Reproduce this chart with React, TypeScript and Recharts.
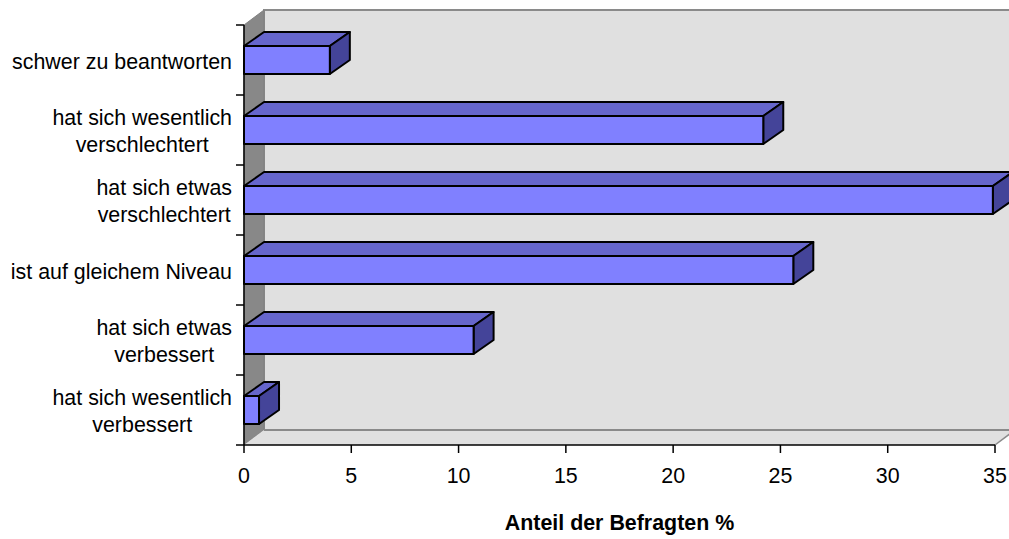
import { BarChart, Bar, XAxis, YAxis, ReferenceArea, Label } from "recharts";

const categories = [
  "schwer zu beantworten",
  "hat sich wesentlich\nverschlechtert",
  "hat sich etwas\nverschlechtert",
  "ist auf gleichem Niveau",
  "hat sich etwas\nverbessert",
  "hat sich wesentlich\nverbessert",
];
const shares = [4.0, 24.2, 34.9, 25.6, 10.7, 0.7];
const xTicks = [0, 5, 10, 15, 20, 25, 30, 35];
const xTitle = "Anteil der Befragten %";

const data = categories.map((name, i) => ({ name, value: shares[i] }));

const W = 1009;
const H = 539;
const TOP = 25;
const X_AXIS_H = 94;
const PLOT_H = H - TOP - X_AXIS_H;
const BAND = PLOT_H / categories.length;
const DX = 20; // 3d depth
const DY = 15;
const FONT = '"Liberation Sans", Arial, sans-serif';
const FS = 21.4;
const LINE_H = 27.5;

let ctx: CanvasRenderingContext2D | null = null;
function measure(s: string) {
  if (!ctx) {
    ctx = document.createElement("canvas").getContext("2d");
  }
  if (!ctx) return s.length * FS * 0.5;
  ctx.font = `${FS}px "Liberation Sans", Arial, sans-serif`;
  return ctx.measureText(s).width;
}

function Walls(props: any) {
  const { x, y, width, height } = props;
  const bx = x + DX;
  const by = y - DY;
  return (
    <g>
      <rect x={bx} y={by} width={width + 40} height={height} fill="#e0e0e0" stroke="#8a8a8a" strokeWidth={2} />
      <polygon
        points={`${x},${y} ${bx},${by} ${bx},${by + height} ${x},${y + height}`}
        fill="#888888"
        stroke="#808080"
      />
      <polygon
        points={`${x},${y + height} ${bx},${by + height} ${bx + width},${by + height} ${x + width},${y + height}`}
        fill="#e0e0e0"
      />
      <line x1={bx} x2={bx + width + 40} y1={by + height} y2={by + height} stroke="#8a8a8a" strokeWidth={2} />
      <line x1={x + width} x2={bx + width} y1={y + height} y2={by + height} stroke="#8a8a8a" strokeWidth={1.5} />
    </g>
  );
}

function Box(props: any) {
  const { x, y, width, height } = props;
  const dx = 20;
  const dy = 14;
  const r = x + width;
  return (
    <g stroke="#000" strokeWidth={2} strokeLinejoin="round">
      <polygon points={`${x},${y} ${x + dx},${y - dy} ${r + dx},${y - dy} ${r},${y}`} fill="#6666cc" />
      <polygon points={`${r},${y} ${r + dx},${y - dy} ${r + dx},${y + height - dy} ${r},${y + height}`} fill="#444499" />
      <rect x={x} y={y} width={width} height={height} fill="#8080ff" />
    </g>
  );
}

function YTick(props: any) {
  const { x, y, payload, index } = props;
  const lines = String(payload.value).split("\n");
  const maxW = Math.max(...lines.map(measure));
  const cx = x - maxW / 2;
  const base = y + 8.5 - ((lines.length - 1) * LINE_H) / 2;
  const half = BAND / 2;
  return (
    <g>
      <line x1={x + 4} x2={x + 12} y1={y - half} y2={y - half} stroke="#000" strokeWidth={1.5} />
      {index === categories.length - 1 && (
        <line x1={x + 4} x2={x + 12} y1={y + half} y2={y + half} stroke="#000" strokeWidth={1.5} />
      )}
      <text textAnchor="middle" fill="#000" fontSize={FS} fontFamily={FONT}>
        {lines.map((l, i) => (
          <tspan key={i} x={cx} y={base + i * LINE_H}>
            {l}
          </tspan>
        ))}
      </text>
    </g>
  );
}

export default function App() {
  return (
    <div style={{ position: "absolute", left: 0, top: 0, width: W, height: H, background: "#fff" }}>
      <BarChart
        width={W}
        height={H}
        data={data}
        layout="vertical"
        margin={{ top: TOP, right: 14, bottom: 0, left: 0 }}
      >
        <ReferenceArea x1={0} x2={35} shape={(p: any) => <Walls {...p} />} ifOverflow="visible" />
        <XAxis
          type="number"
          domain={[0, 35]}
          ticks={xTicks}
          interval={0}
          height={X_AXIS_H}
          tickSize={8}
          tickMargin={15}
          axisLine={{ stroke: "#000", strokeWidth: 1.5 }}
          tickLine={{ stroke: "#000", strokeWidth: 1.5 }}
          tick={{ fill: "#000", fontSize: FS, fontFamily: FONT }}
        >
          <Label
            value={xTitle}
            position="insideBottom"
            offset={9}
            fill="#000"
            fontSize={FS}
            fontWeight="bold"
            fontFamily={FONT}
          />
        </XAxis>
        <YAxis
          type="category"
          dataKey="name"
          width={244}
          interval={0}
          tickSize={8}
          tickMargin={4}
          axisLine={{ stroke: "#000", strokeWidth: 1.5 }}
          tickLine={false}
          tick={<YTick />}
        />
        <Bar dataKey="value" barSize={28} shape={<Box />} isAnimationActive={false} />
      </BarChart>
    </div>
  );
}
